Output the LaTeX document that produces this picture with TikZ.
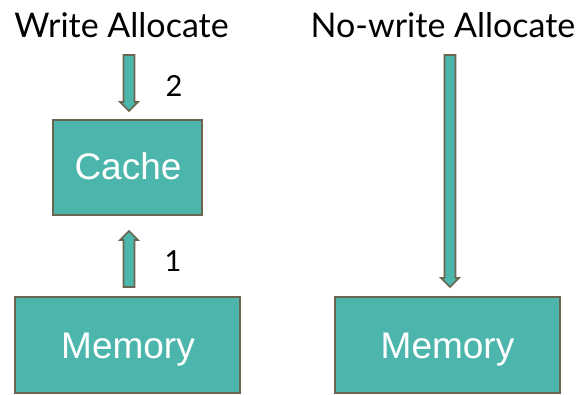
\documentclass[tikz,border=0pt]{standalone}
\usepackage{fontspec}
\setmainfont{Lato}
\newfontfamily\boxfont{Liberation Sans}
\begin{document}
\begin{tikzpicture}[x=1pt,y=-1pt,
  box/.style={draw=edge,fill=teal1,line width=2pt,inner sep=0pt},
  boxtext/.style={font=\boxfont\fontsize{37}{40}\selectfont,text=white,inner sep=0pt,anchor=base},
  title/.style={font=\fontsize{34}{38}\selectfont,inner sep=0pt,anchor=base},
  num/.style={font=\fontsize{29}{30}\selectfont,inner sep=0pt,anchor=base},
  blockarrow/.style={draw=edge,fill=teal1,line width=1.6pt,line join=miter}]
\definecolor{teal1}{RGB}{77,182,172}
\definecolor{edge}{RGB}{106,100,80}
\useasboundingbox (0,0) rectangle (580,394);

% titles
\node[title] (wa) at (121.5,37) {Write Allocate};
\node[title] (nwa) at (443,37) {No-write Allocate};

% boxes
\node[box,minimum width=149pt,minimum height=95pt] (cache) at (127.5,167.5) {};
\node[box,minimum width=225pt,minimum height=96pt] (memL) at (127.5,345) {};
\node[box,minimum width=225pt,minimum height=96pt] (memR) at (447.5,345) {};
\node[boxtext] (cacheT) at (128,179) {Cache};
\node[boxtext] (memLT) at (128,358) {Memory};
\node[boxtext] (memRT) at (447.5,358) {Memory};

% block arrow: x, tail y, tip y; shaft half width 5.5, head half width 9, head length 9
\newcommand\blockarr[3]{%
  \pgfmathsetmacro\hy{#3>#2 ? #3-9 : #3+9}
  \draw[blockarrow] (#1-5.5,#2) -- (#1+5.5,#2) -- (#1+5.5,\hy) -- (#1+9,\hy)
    -- (#1,#3) -- (#1-9,\hy) -- (#1-5.5,\hy) -- cycle;}

\blockarr{129}{55}{111}
\node[num] (n2) at (174,96) {2};

\blockarr{129}{287}{231}
\node[num] (n1) at (173,271) {1};

\blockarr{450}{55}{287}
\end{tikzpicture}
\end{document}
